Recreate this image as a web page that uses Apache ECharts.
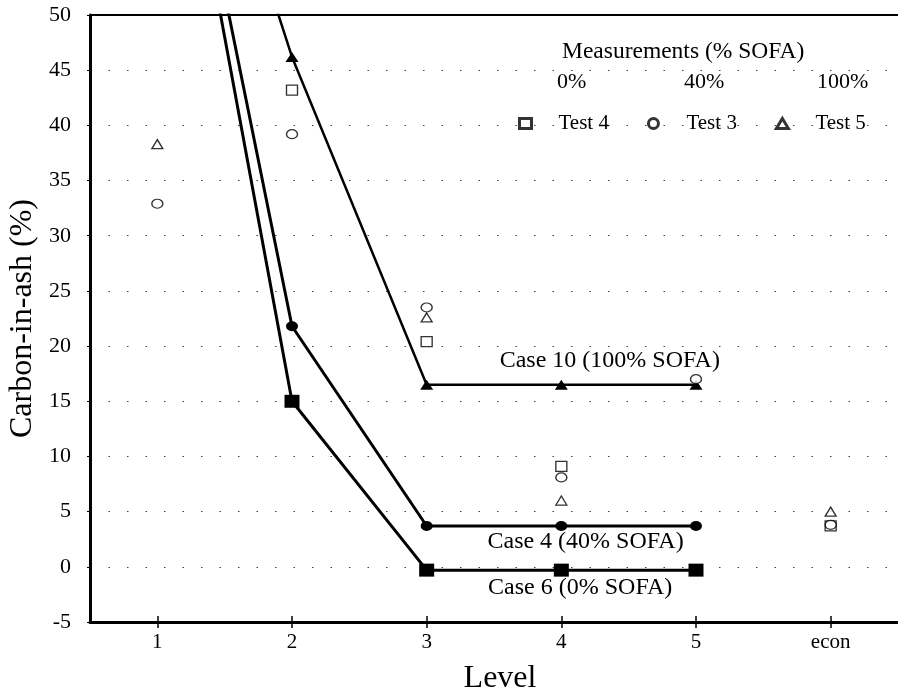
<!DOCTYPE html>
<html>
<head>
<meta charset="utf-8">
<script src="https://cdn.jsdelivr.net/npm/echarts@6/dist/echarts.min.js"></script>
<style>html,body{margin:0;padding:0;background:#fff}#c{width:898px;height:696px}</style>
</head>
<body>
<div id="c"></div>
<script>
// Category levels (x positions) and tick labels
var levels = [1, 2, 3, 4, 5, 6];
var xTickLabels = ['1', '2', '3', '4', '5', 'econ'];
var yTicks = [-5, 0, 5, 10, 15, 20, 25, 30, 35, 40, 45, 50];

// Model cases (lines); level 1 values run off the top of the chart
var case6Levels = [1, 2, 3, 4, 5];
var case6Values = [81, 15, -0.3, -0.3, -0.3];
var case4Levels = [1, 2, 3, 4, 5];
var case4Values = [82, 21.8, 3.7, 3.7, 3.7];
var case10Levels = [1, 2, 3, 4, 5];
var case10Values = [84, 46.2, 16.5, 16.5, 16.5];

// Measurements
var test4Levels = [2, 3, 4, 6];
var test4Values = [43.2, 20.4, 9.1, 3.7];
var test3Levels = [1, 2, 3, 4, 5, 6];
var test3Values = [32.9, 39.2, 23.5, 8.1, 17.0, 3.8];
var test5Levels = [1, 3, 4, 6];
var test5Values = [38.3, 22.6, 6.0, 5.0];

function pairs(xs, ys) { return xs.map(function (x, i) { return [x, ys[i]]; }); }

var FONT = '"Liberation Serif", "DejaVu Serif", serif';

var chart = echarts.init(document.getElementById('c'), null, { renderer: 'canvas' });

function caseSeries(name, xs, ys, symbol, size, lw, labelText, labelCoord) {
  return {
    name: name, type: 'line', xAxisIndex: 0, yAxisIndex: 0,
    data: pairs(xs, ys), clip: true,
    symbol: symbol, symbolSize: size, showAllSymbol: true,
    lineStyle: { color: '#000', width: lw },
    itemStyle: { color: '#000' },
    emphasis: { disabled: true },
    z: 3,
    markPoint: {
      symbol: 'circle', symbolSize: 0, silent: true,
      label: { show: true, position: 'inside', color: '#000', fontFamily: FONT, fontSize: 24,
               formatter: function () { return labelText; } },
      data: [{ coord: labelCoord }]
    }
  };
}

function measSeries(name, xs, ys, symbol, size) {
  return {
    name: name, type: 'scatter', xAxisIndex: 0, yAxisIndex: 0,
    data: pairs(xs, ys),
    symbol: symbol, symbolSize: size,
    itemStyle: { color: '#fff', borderColor: '#000', borderWidth: 1.3 },
    emphasis: { disabled: true },
    z: 4
  };
}

var option = {
  backgroundColor: '#fff',
  animation: false,
  grid: { left: 90, right: 0, top: 15, bottom: 74, containLabel: false, outerBoundsMode: 'none' },
  xAxis: [
    {
      type: 'value', min: 0.5, max: 6.5, position: 'bottom',
      name: 'Level', nameLocation: 'middle', nameGap: 41,
      nameTextStyle: { fontFamily: FONT, fontSize: 32, color: '#000', padding: [0, 0, 0, 12] },
      axisLine: { show: true, onZero: false, lineStyle: { color: '#000', width: 3 } },
      axisTick: { show: true, customValues: levels, length: 6, lineStyle: { color: '#000', width: 1.5 } },
      axisLabel: { show: true, customValues: levels, margin: 10, color: '#000', fontFamily: FONT, fontSize: 21,
                   formatter: function (v) { var i = levels.indexOf(Math.round(v)); return i >= 0 ? xTickLabels[i] : ''; } },
      splitLine: { show: false }
    },
    {
      type: 'value', min: 0.5, max: 6.5, position: 'bottom',
      axisLine: { show: false, onZero: false },
      axisTick: { show: true, inside: true, customValues: levels, length: 6, lineStyle: { color: '#000', width: 1.5 } },
      axisLabel: { show: false },
      splitLine: { show: false }
    },
    {
      type: 'value', min: 0.5, max: 6.5, position: 'top',
      axisLine: { show: true, onZero: false, lineStyle: { color: '#000', width: 2 } },
      axisTick: { show: false }, axisLabel: { show: false }, splitLine: { show: false }
    }
  ],
  yAxis: [
    {
      type: 'value', min: -5, max: 50, interval: 5,
      name: 'Carbon-in-ash (%)', nameLocation: 'middle', nameGap: 50,
      nameTextStyle: { fontFamily: FONT, fontSize: 32, color: '#000' },
      axisLine: { show: true, onZero: false, lineStyle: { color: '#000', width: 3 } },
      axisTick: { show: true, length: 3, lineStyle: { color: '#000', width: 1 } },
      axisLabel: { color: '#000', fontFamily: FONT, fontSize: 22, margin: 19,
                   formatter: function (v) { return yTicks.indexOf(v) >= 0 ? String(v) : ''; } },
      splitLine: { show: true, lineStyle: { color: '#444', width: 1.2, type: [1.5, 17] } }
    }
  ],
  legend: {
    show: true, left: 513, top: 108, orient: 'horizontal',
    itemWidth: 12, itemHeight: 10, itemGap: 38,
    data: ['Test 4', 'Test 3', 'Test 5'],
    itemStyle: { color: '#fff', borderColor: '#000', borderWidth: 3 },
    textStyle: { fontFamily: FONT, fontSize: 21, color: '#000', padding: [0, 0, 0, 22] },
    selectedMode: false
  },
  graphic: [
    { type: 'text', left: 562, top: 40, style: { text: 'Measurements (% SOFA)', font: '23.5px ' + FONT, fill: '#000' } },
    { type: 'text', left: 557, top: 71, style: { text: '0%', font: '22px ' + FONT, fill: '#000' } },
    { type: 'text', left: 684, top: 71, style: { text: '40%', font: '22px ' + FONT, fill: '#000' } },
    { type: 'text', left: 817, top: 71, style: { text: '100%', font: '22px ' + FONT, fill: '#000' } }
  ],
  series: [
    caseSeries('Case 6', case6Levels, case6Values, 'rect', [15, 13], 3, 'Case 6 (0% SOFA)', [4.14, -1.9]),
    caseSeries('Case 4', case4Levels, case4Values, 'circle', [12, 10], 3, 'Case 4 (40% SOFA)', [4.18, 2.3]),
    caseSeries('Case 10', case10Levels, case10Values, 'triangle', [13, 10], 2.5, 'Case 10 (100% SOFA)', [4.36, 18.7]),
    measSeries('Test 4', test4Levels, test4Values, 'rect', [11, 10]),
    measSeries('Test 3', test3Levels, test3Values, 'circle', [11, 9]),
    measSeries('Test 5', test5Levels, test5Values, 'triangle', [11, 9])
  ]
};
chart.setOption(option);
</script>
</body>
</html>
